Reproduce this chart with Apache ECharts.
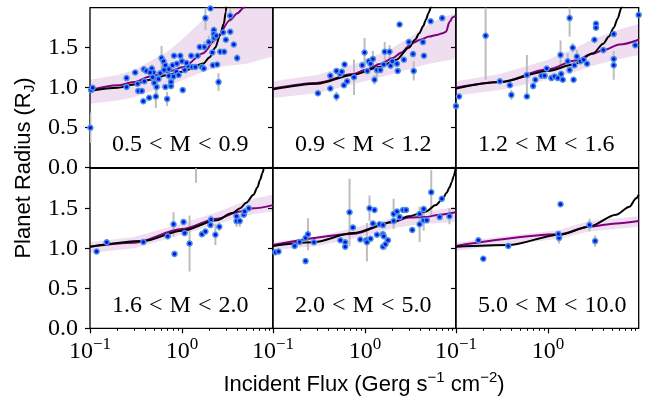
<!DOCTYPE html>
<html>
<head>
<meta charset="utf-8">
<script src="https://cdn.jsdelivr.net/npm/echarts@6/dist/echarts.min.js"></script>
<style>
  html, body { margin: 0; padding: 0; background: #fff; }
  #chart { width: 657px; height: 399px; }
</style>
</head>
<body>
<div id="chart"></div>
<script>
// ---- Mass bins (panel labels, in Jupiter masses) ----
const massBins = ['0.5 < M < 0.9', '0.9 < M < 1.2', '1.2 < M < 1.6',
                  '1.6 < M < 2.0', '2.0 < M < 5.0', '5.0 < M < 10.0'];

// ---- Axis ticks ----
const fluxMin = 0.1, fluxMax = 9.7;          // Gerg s^-1 cm^-2
const xTickExponents = [-1, 0];               // labelled decades
const xMinorFlux = [0.2, 0.3, 0.4, 0.5, 0.6, 0.7, 0.8, 0.9, 2, 3, 4, 5, 6, 7, 8, 9];
const yTicks = [0, 0.5, 1.0, 1.5];

// ---- Panel 1: 0.5 < M < 0.9 ----
const flux1 = [0.101, 0.103, 0.107, 0.25, 0.25, 0.31, 0.33, 0.335, 0.366, 0.38,
               0.385, 0.41, 0.44, 0.47, 0.49, 0.48, 0.50, 0.52, 0.53, 0.556,
               0.60, 0.63, 0.66, 0.66, 0.69, 0.72, 0.72, 0.76, 0.76, 0.79,
               0.81, 0.82, 0.87, 0.92, 0.96, 1.00, 1.02, 1.07, 1.17, 1.26,
               1.29, 1.40, 1.48, 1.56, 1.65, 1.73, 1.75, 1.80, 2.04, 1.96,
               2.14, 2.17, 2.22, 2.22, 2.24, 2.36, 2.41, 2.50, 2.61, 2.80,
               2.88, 3.00, 3.35, 3.35, 3.66, 3.98, 0.45, 0.58, 0.64, 0.88,
               1.12, 0.39];
const radius1 = [0.50, 0.97, 1.00, 1.12, 1.01, 1.19, 1.05, 0.96, 0.96, 0.83,
                 1.23, 1.21, 0.875, 1.24, 1.19, 1.13, 1.06, 0.89, 1.01, 1.11,
                 1.37, 1.33, 1.28, 1.01, 0.86, 1.23, 1.15, 1.02, 1.07, 1.28,
                 1.14, 1.40, 1.20, 1.16, 1.40, 1.33, 0.97, 1.22, 1.27, 1.40,
                 1.26, 1.26, 1.40, 1.51, 1.26, 1.24, 1.51, 1.87, 1.99, 1.57,
                 1.44, 1.28, 1.72, 1.67, 1.62, 1.65, 1.29, 1.07, 1.45, 1.69,
                 1.45, 1.60, 1.70, 1.90, 1.54, 1.37, 1.19, 1.18, 1.22, 1.30,
                 1.31, 1.08];
const err1 = [0.19, 0, 0, 0, 0, 0, 0, 0, 0, 0,
              0.04, 0, 0, 0.05, 0, 0, 0, 0.145, 0.09, 0,
              0.15, 0, 0.06, 0, 0.09, 0, 0.05, 0, 0, 0,
              0.06, 0, 0, 0, 0, 0, 0, 0, 0, 0,
              0, 0, 0, 0, 0.06, 0, 0.07, 0.15, 0, 0.08,
              0, 0, 0, 0, 0.07, 0, 0, 0.11, 0, 0,
              0, 0, 0, 0.08, 0, 0.05, 0, 0, 0, 0,
              0, 0];
const blackFlux1 = [0.1, 0.2, 0.3, 0.45, 0.7, 1.0, 1.7, 2.0, 2.3, 2.6, 2.85, 3.0, 3.05];
const black1 = [0.96, 1.00, 1.04, 1.10, 1.16, 1.20, 1.30, 1.38, 1.50, 1.66, 1.80, 1.95, 2.05];
const purpleFlux1 = [0.1, 0.2, 0.3, 0.45, 0.7, 1.04, 1.7, 2.3, 3.37, 4.0, 4.7, 5.0];
const purple1 = [0.97, 1.03, 1.07, 1.14, 1.20, 1.26, 1.43, 1.60, 1.85, 1.93, 2.00, 2.04];
const bandFlux1 = [0.1, 0.2, 0.3, 0.45, 0.74, 1.04, 1.7, 2.3, 3.0, 5.1, 9.7];
const bandLo1 = [0.80, 0.84, 0.88, 0.95, 1.03, 1.10, 1.20, 1.24, 1.27, 1.30, 1.39];
const bandHi1 = [1.10, 1.16, 1.22, 1.33, 1.47, 1.62, 1.85, 2.00, 2.15, 2.35, 2.50];

// ---- Panel 2: 0.9 < M < 1.2 ----
const flux2 = [0.308, 0.42, 0.42, 0.49, 0.49, 0.54, 0.60, 0.59, 0.64, 0.76,
               0.935, 0.99, 1.06, 1.10, 1.27, 1.22, 1.35, 1.47, 1.64, 1.60,
               1.85, 1.90, 1.98, 2.23, 2.27, 2.65, 2.38, 3.00, 3.33, 3.39,
               4.27, 4.38, 5.18, 6.92, 0.56, 1.15];
const radius2 = [0.93, 0.99, 1.15, 1.21, 0.89, 1.17, 1.29, 1.03, 1.08, 1.13,
                 1.28, 1.44, 1.21, 1.33, 1.10, 1.36, 1.22, 1.22, 1.45, 1.29,
                 1.45, 1.275, 1.33, 1.30, 1.21, 1.35, 1.79, 1.57, 1.42, 1.21,
                 1.57, 1.40, 1.83, 1.87, 1.20, 1.30];
const err2 = [0, 0, 0.04, 0, 0.06, 0, 0, 0, 0, 0.22,
              0, 0.18, 0, 0, 0.06, 0.10, 0.09, 0, 0.12, 0,
              0.08, 0, 0, 0, 0, 0, 0, 0, 0, 0.12,
              0, 0, 0, 0, 0, 0];
const blackFlux2 = [0.1, 0.3, 0.74, 1.45, 2.2, 3.0, 3.5, 3.9, 4.3, 4.6, 4.9, 5.2, 5.4];
const black2 = [0.98, 1.05, 1.16, 1.26, 1.35, 1.50, 1.60, 1.68, 1.77, 1.85, 1.93, 2.00, 2.06];
const purpleFlux2 = [0.1, 0.3, 0.74, 1.0, 1.5, 2.0, 2.5, 3.0, 3.3, 4.0, 5.0, 6.0, 7.0, 7.6, 8.3, 9.0, 9.7];
const purple2 = [0.99, 1.06, 1.17, 1.22, 1.30, 1.37, 1.44, 1.52, 1.56, 1.60, 1.64, 1.66, 1.68, 1.70, 1.82, 1.88, 1.90];
const bandFlux2 = [0.1, 0.3, 1.0, 2.0, 3.0, 4.0, 5.0, 7.0, 9.7];
const bandLo2 = [0.87, 0.93, 1.08, 1.17, 1.23, 1.27, 1.30, 1.33, 1.36];
const bandHi2 = [1.08, 1.16, 1.34, 1.50, 1.62, 1.72, 1.80, 1.88, 1.93];

// ---- Panel 3: 1.2 < M < 1.6 ----
const flux3 = [0.100, 0.108, 0.21, 0.30, 0.385, 0.40, 0.59, 0.59, 0.69, 0.73,
               0.85, 0.92, 0.97, 1.09, 1.18, 1.28, 1.39, 1.37, 1.45, 1.64,
               1.72, 1.72, 1.86, 1.94, 1.90, 2.06, 2.25, 2.44, 2.66, 3.20,
               3.33, 3.33, 4.00, 5.19, 5.19, 5.19, 8.90, 9.70];
const radius3 = [0.77, 0.89, 1.65, 1.08, 1.03, 0.91, 0.89, 1.16, 1.02, 1.10,
                 1.15, 1.15, 1.24, 1.12, 1.14, 1.12, 1.17, 1.41, 1.10, 1.33,
                 1.87, 1.22, 1.50, 1.28, 1.10, 1.39, 1.33, 1.35, 1.30, 1.60,
                 1.80, 1.75, 1.47, 1.67, 1.36, 1.28, 1.53, 1.91];
const err3 = [0, 0, 0.55, 0, 0, 0.06, 0, 0.25, 0, 0,
              0, 0, 0, 0, 0, 0, 0, 0.18, 0, 0.10,
              0.23, 0.05, 0.06, 0, 0, 0.08, 0, 0, 0, 0,
              0, 0, 0, 0, 0, 0.18, 0, 0];
const blackFlux3 = [0.1, 0.3, 1.0, 1.9, 3.1, 4.0, 4.6, 5.2, 5.7, 6.3, 6.6];
const black3 = [0.99, 1.07, 1.21, 1.29, 1.43, 1.55, 1.64, 1.75, 1.86, 2.00, 2.08];
const purpleFlux3 = [0.1, 0.3, 1.0, 2.0, 3.0, 4.0, 6.0, 9.7];
const purple3 = [1.00, 1.07, 1.23, 1.34, 1.42, 1.47, 1.54, 1.60];
const bandFlux3 = [0.1, 0.3, 1.0, 2.0, 3.0, 5.0, 9.7];
const bandLo3 = [0.90, 0.97, 1.10, 1.20, 1.27, 1.34, 1.41];
const bandHi3 = [1.08, 1.17, 1.35, 1.50, 1.60, 1.70, 1.80];

// ---- Panel 4: 1.6 < M < 2.0 ----
const flux4 = [0.118, 0.152, 0.38, 0.70, 0.81, 0.83, 1.04, 1.07, 1.21, 1.42,
               1.65, 1.80, 2.04, 2.07, 2.31, 2.55, 3.92, 3.92, 4.25, 4.70,
               4.80, 5.33];
const radius4 = [0.96, 1.075, 1.08, 1.15, 1.30, 0.93, 1.33, 1.19, 1.06, 2.12,
                 1.175, 1.21, 1.29, 1.36, 1.17, 1.27, 1.40, 1.34, 1.34, 1.42,
                 1.46, 1.50];
const err4 = [0, 0, 0, 0.04, 0.15, 0.04, 0, 0, 0.35, 0.30,
              0, 0, 0, 0.05, 0.13, 0.05, 0, 0.07, 0.07, 0,
              0, 0.04];
const blackFlux4 = [0.1, 0.38, 1.0, 2.4, 3.5, 4.3, 5.0, 6.0, 6.6, 7.1, 7.5, 7.8, 8.0];
const black4 = [1.02, 1.09, 1.22, 1.35, 1.44, 1.50, 1.57, 1.67, 1.76, 1.86, 1.94, 2.00, 2.05];
const purpleFlux4 = [0.1, 0.3, 1.0, 2.4, 4.3, 6.0, 9.7];
const purple4 = [1.02, 1.07, 1.24, 1.37, 1.46, 1.50, 1.54];
const bandFlux4 = [0.1, 0.3, 1.0, 2.4, 4.0, 6.0, 9.7];
const bandLo4 = [0.94, 1.00, 1.17, 1.30, 1.38, 1.43, 1.46];
const bandHi4 = [1.075, 1.14, 1.31, 1.45, 1.55, 1.62, 1.67];

// ---- Panel 5: 2.0 < M < 5.0 ----
const flux5 = [0.106, 0.115, 0.172, 0.195, 0.226, 0.24, 0.226, 0.279, 0.54, 0.61,
               0.61, 0.68, 0.74, 0.89, 1.03, 1.05, 1.12, 1.15, 1.27, 1.22,
               1.35, 1.44, 1.57, 1.57, 1.60, 1.57, 1.67, 1.78, 2.05, 2.23,
               2.38, 2.05, 2.60, 2.80, 3.27, 3.93, 3.93, 4.35, 4.35, 4.70,
               5.26, 6.49, 6.86, 8.30];
const radius5 = [0.95, 0.96, 1.03, 1.08, 1.13, 1.175, 0.84, 1.075, 1.10, 1.075,
                 1.02, 1.45, 1.26, 1.11, 1.10, 1.075, 1.50, 1.12, 1.48, 1.31,
                 1.17, 1.30, 1.29, 1.175, 1.15, 1.02, 1.05, 1.10, 1.43, 1.46,
                 1.39, 1.34, 1.48, 1.48, 1.23, 1.43, 1.30, 1.49, 1.35, 1.35,
                 1.70, 1.39, 1.62, 1.40];
const err5 = [0, 0, 0, 0, 0, 0.20, 0, 0, 0, 0,
              0, 0.42, 0, 0, 0, 0.24, 0.16, 0, 0, 0,
              0, 0, 0, 0, 0, 0, 0.07, 0, 0.19, 0,
              0, 0, 0, 0, 0, 0, 0.22, 0, 0.13, 0,
              0.28, 0, 0, 0.10];
const blackFlux5 = [0.1, 0.27, 0.74, 2.0, 3.0, 4.6, 5.9, 7.0, 7.7, 8.3, 8.8, 9.2, 9.7];
const black5 = [1.03, 1.075, 1.19, 1.33, 1.40, 1.46, 1.54, 1.62, 1.69, 1.76, 1.83, 1.90, 2.00];
const purpleFlux5 = [0.1, 0.74, 2.0, 3.0, 4.5, 6.5, 9.7];
const purple5 = [1.04, 1.18, 1.325, 1.385, 1.39, 1.42, 1.45];
const bandFlux5 = [0.1, 0.3, 1.0, 2.0, 3.9, 9.7];
const bandLo5 = [0.98, 1.03, 1.15, 1.25, 1.30, 1.33];
const bandHi5 = [1.08, 1.14, 1.29, 1.38, 1.44, 1.52];

// ---- Panel 6: 5.0 < M < 10.0 ----
const flux6 = [0.175, 0.198, 0.37, 1.32, 1.30, 1.37, 2.83, 3.26];
const radius6 = [1.10, 0.87, 1.03, 1.13, 1.18, 1.55, 1.29, 1.09];
const err6 = [0, 0, 0, 0.07, 0, 0, 0.08, 0.07];
const blackFlux6 = [0.1, 0.37, 1.33, 2.8, 5.5, 7.7, 9.1, 9.7];
const black6 = [1.02, 1.04, 1.17, 1.27, 1.42, 1.52, 1.625, 1.67];
const purpleFlux6 = [0.1, 1.33, 2.8, 5.5, 9.7];
const purple6 = [1.03, 1.175, 1.27, 1.31, 1.34];
const bandFlux6 = [0.1, 1.33, 2.8, 9.7];
const bandLo6 = [0.97, 1.12, 1.21, 1.27];
const bandHi6 = [1.075, 1.23, 1.34, 1.40];

// ---- Assemble panels ----
const panels = [
  { flux: flux1, radius: radius1, err: err1, bF: blackFlux1, bR: black1, pF: purpleFlux1, pR: purple1, cF: bandFlux1, lo: bandLo1, hi: bandHi1 },
  { flux: flux2, radius: radius2, err: err2, bF: blackFlux2, bR: black2, pF: purpleFlux2, pR: purple2, cF: bandFlux2, lo: bandLo2, hi: bandHi2 },
  { flux: flux3, radius: radius3, err: err3, bF: blackFlux3, bR: black3, pF: purpleFlux3, pR: purple3, cF: bandFlux3, lo: bandLo3, hi: bandHi3 },
  { flux: flux4, radius: radius4, err: err4, bF: blackFlux4, bR: black4, pF: purpleFlux4, pR: purple4, cF: bandFlux4, lo: bandLo4, hi: bandHi4 },
  { flux: flux5, radius: radius5, err: err5, bF: blackFlux5, bR: black5, pF: purpleFlux5, pR: purple5, cF: bandFlux5, lo: bandLo5, hi: bandHi5 },
  { flux: flux6, radius: radius6, err: err6, bF: blackFlux6, bR: black6, pF: purpleFlux6, pR: purple6, cF: bandFlux6, lo: bandLo6, hi: bandHi6 }
];

const lg = Math.log10;
const SERIF = 'Liberation Serif';
const SANS = 'Liberation Sans';
const colLeft = [90, 273, 456];
const colWidth = 182.7;
const rowTop = [7.7, 168.3];
const rowHeight = 160;

const grids = [], xAxes = [], yAxes = [], series = [], graphics = [];

panels.forEach((p, i) => {
  const col = i % 3, row = Math.floor(i / 3);
  const isBottom = row === 1;
  grids.push({
    left: colLeft[col], top: rowTop[row], width: colWidth, height: rowHeight,
    show: true, borderColor: '#000', borderWidth: 1.3, backgroundColor: 'transparent'
  });

  const xi = xAxes.length;
  xAxes.push({
    gridIndex: i, type: 'value', position: 'bottom',
    min: lg(fluxMin), max: lg(fluxMax),
    axisLine: { show: false, onZero: false }, splitLine: { show: false },
    axisTick: { show: isBottom, inside: false, length: 5, customValues: xTickExponents,
                lineStyle: { color: '#000', width: 1.2 } },
    axisLabel: {
      show: isBottom, customValues: xTickExponents, margin: 8,
      formatter: v => '{b|10}{e|' + String(Math.round(v)).replace('-', '\u2212') + '}',
      rich: {
        b: { fontFamily: SERIF, fontSize: 24, lineHeight: 24, padding: [3, 0, 0, 0], verticalAlign: 'top', color: '#000' },
        e: { fontFamily: SERIF, fontSize: 17, lineHeight: 17, verticalAlign: 'top', color: '#000' }
      }
    }
  });
  if (isBottom) {
    // minor decade ticks
    xAxes.push({
      gridIndex: i, type: 'value', position: 'bottom',
      min: lg(fluxMin), max: lg(fluxMax),
      axisLine: { show: false, onZero: false }, splitLine: { show: false }, axisLabel: { show: false },
      axisTick: { show: true, inside: false, length: 2.5, customValues: xMinorFlux.map(lg),
                  lineStyle: { color: '#000', width: 1 } }
    });
  }

  yAxes.push({
    gridIndex: i, type: 'value', position: 'left', min: 0, max: 2, interval: 0.5,
    axisLine: { show: false, onZero: false }, splitLine: { show: false },
    axisTick: { show: true, inside: false, length: 5, customValues: yTicks,
                lineStyle: { color: '#000', width: 1.2 } },
    axisLabel: { show: col === 0, customValues: yTicks, margin: 12,
                 formatter: v => v.toFixed(1),
                 fontFamily: SERIF, fontSize: 24, color: '#000' }
  });

  // shaded model spread
  series.push({
    type: 'custom', xAxisIndex: xi, yAxisIndex: i, clip: true, silent: true, z: 1,
    data: p.cF.map((f, k) => [lg(f), p.lo[k], p.hi[k]]),
    encode: { x: 0, y: [1, 2] },
    renderItem: (params, api) => {
      if (params.dataIndex !== 0) return;
      const pts = [];
      p.cF.forEach((f, k) => pts.push(api.coord([lg(f), p.lo[k]])));
      for (let k = p.cF.length - 1; k >= 0; k--) pts.push(api.coord([lg(p.cF[k]), p.hi[k]]));
      return { type: 'polygon', shape: { points: pts }, style: { fill: 'rgba(128,0,128,0.13)' } };
    }
  });

  // error bars
  const eb = [];
  p.flux.forEach((f, k) => {
    if (p.err[k] > 0) eb.push([lg(f), p.radius[k] - p.err[k], p.radius[k] + p.err[k]]);
  });
  series.push({
    type: 'custom', xAxisIndex: xi, yAxisIndex: i, clip: true, silent: true, z: 2,
    data: eb, encode: { x: 0, y: [1, 2] },
    renderItem: (params, api) => {
      const a = api.coord([api.value(0), api.value(1)]);
      const b = api.coord([api.value(0), api.value(2)]);
      return { type: 'line', shape: { x1: a[0], y1: a[1], x2: b[0], y2: b[1] },
               style: { stroke: '#bdbdbd', lineWidth: 2 } };
    }
  });

  // model curves
  series.push({
    type: 'line', xAxisIndex: xi, yAxisIndex: i, z: 3, silent: true,
    data: p.pF.map((f, k) => [lg(f), p.pR[k]]),
    symbol: 'none', smooth: 0.3, smoothMonotone: 'x', clip: true,
    lineStyle: { color: '#800080', width: 2 }
  });
  series.push({
    type: 'line', xAxisIndex: xi, yAxisIndex: i, z: 4, silent: true,
    data: p.bF.map((f, k) => [lg(f), p.bR[k]]),
    symbol: 'none', smooth: 0.3, smoothMonotone: 'x', clip: true,
    lineStyle: { color: '#000', width: 2 }
  });

  // planets
  series.push({
    type: 'scatter', xAxisIndex: xi, yAxisIndex: i, z: 5, clip: true,
    data: p.flux.map((f, k) => [lg(f), p.radius[k]]),
    symbolSize: 5,
    itemStyle: { color: '#0010f0', borderColor: '#4a92de', borderWidth: 1.5, opacity: 1 }
  });

  // mass-bin label
  const parts = massBins[i].split(' < ');
  graphics.push({
    type: 'text', x: colLeft[col] + 22, y: rowTop[row] + rowHeight - 23, silent: true,
    style: {
      text: '{n|' + parts[0] + '}{r|<}{n|' + parts[1] + '}{r|<}{n|' + parts[2] + '}',
      align: 'left', verticalAlign: 'middle', fill: '#000',
      rich: {
        n: { fontFamily: SERIF, fontSize: 24, fill: '#000' },
        r: { fontFamily: SERIF, fontSize: 24, fill: '#000', padding: [0, 7, 0, 7] }
      }
    }
  });
});

// axis titles
graphics.push({
  type: 'text', x: 24, y: 168, rotation: Math.PI / 2, silent: true,
  style: {
    text: '{t|Planet Radius (R}{s|J}{t|)}',
    align: 'center', verticalAlign: 'middle', fill: '#000',
    rich: {
      t: { fontFamily: SANS, fontSize: 22, lineHeight: 22, verticalAlign: 'top', fill: '#000' },
      s: { fontFamily: SANS, fontSize: 15, lineHeight: 15, verticalAlign: 'top', padding: [9, 0, 0, 0], fill: '#000' }
    }
  }
});
graphics.push({
  type: 'text', x: 364, y: 381, silent: true,
  style: {
    text: '{t|Incident Flux (Gerg s}{p|\u22121}{t| cm}{p|\u22122}{t|)}',
    align: 'center', verticalAlign: 'middle', fill: '#000',
    rich: {
      t: { fontFamily: SANS, fontSize: 22, lineHeight: 22, verticalAlign: 'top', padding: [4, 0, 0, 0], fill: '#000' },
      p: { fontFamily: SANS, fontSize: 15, lineHeight: 15, verticalAlign: 'top', fill: '#000' }
    }
  }
});

const chart = echarts.init(document.getElementById('chart'), null, { renderer: 'canvas' });
chart.setOption({
  animation: false,
  backgroundColor: '#fff',
  grid: grids,
  xAxis: xAxes,
  yAxis: yAxes,
  series: series,
  graphic: graphics
});
</script>
</body>
</html>
